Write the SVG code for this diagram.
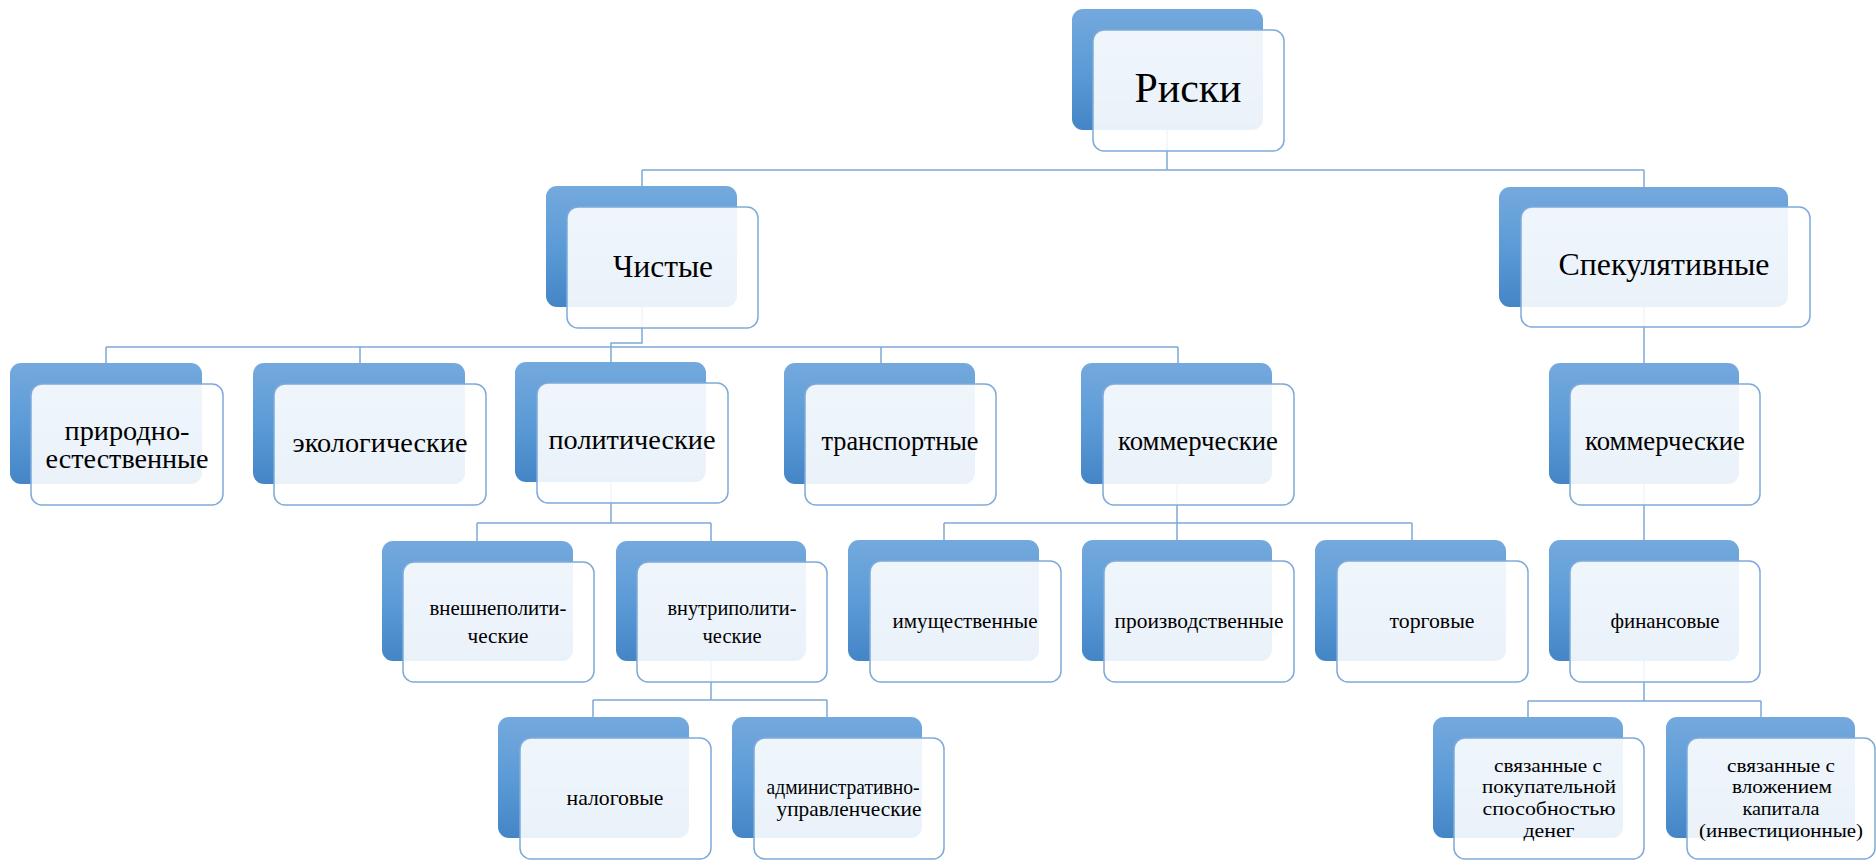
<svg xmlns="http://www.w3.org/2000/svg" width="1876" height="867" viewBox="0 0 1876 867">
<defs>
<linearGradient id="bg" x1="0" y1="0" x2="0" y2="1">
<stop offset="0" stop-color="#74A9DD"/>
<stop offset="0.5" stop-color="#5C9BD7"/>
<stop offset="1" stop-color="#4485C6"/>
</linearGradient>
<style>
.back{fill:url(#bg);}
.front{fill:#FFFFFF;fill-opacity:0.89;stroke:#7EAAD9;stroke-width:1.5;}
.conn{fill:none;stroke:#7EA8D8;stroke-width:1.5;}
text{font-family:"Liberation Serif","Times New Roman",serif;fill:#000;text-anchor:middle;}
.t1{font-size:42px;}
.t2{font-size:32px;}
.t3{font-size:28px;}
.t4{font-size:22px;}
.t5{font-size:19px;}
</style>
</defs>
<rect width="1876" height="867" fill="#FFFFFF"/>
<g id="connectors">
<path class="conn" d="M1167,130 V170 M642,170 H1644 M642,170 V186 M1644,170 V187"/>
<path class="conn" d="M642,307 V343 H611 V362 M106,347 H1178 M106,347 V363 M360,347 V363 M881,347 V363 M1178,347 V363"/>
<path class="conn" d="M1644,307 V363 M1644,484 V540"/>
<path class="conn" d="M1644,661 V701 M1528,701 H1761 M1528,701 V717 M1761,701 V717"/>
<path class="conn" d="M611,482 V523 M477,523 H711 M477,523 V541 M711,523 V541"/>
<path class="conn" d="M711,661 V700 M593,700 H827 M593,700 V717 M827,700 V717"/>
<path class="conn" d="M1177,484 V540 M944,523 H1412 M944,523 V540 M1412,523 V540"/>
</g>
<g id="node-riski">
<rect class="back" x="1072" y="9" width="191" height="121" rx="11"/>
<rect class="front" x="1093" y="30" width="191" height="121" rx="11"/>
<text class="t1" x="1188" y="102" textLength="107" lengthAdjust="spacingAndGlyphs">Риски</text>
</g>
<g id="node-chistye">
<rect class="back" x="546" y="186" width="191" height="121" rx="11"/>
<rect class="front" x="567" y="207" width="191" height="121" rx="11"/>
<text class="t2" x="663" y="277" textLength="100" lengthAdjust="spacingAndGlyphs">Чистые</text>
</g>
<g id="node-spekulyativnye">
<rect class="back" x="1499" y="187" width="289" height="120" rx="11"/>
<rect class="front" x="1521" y="207" width="289" height="120" rx="11"/>
<text class="t2" x="1664" y="275" textLength="211" lengthAdjust="spacingAndGlyphs">Спекулятивные</text>
</g>
<g id="node-prirodno">
<rect class="back" x="10" y="363" width="192" height="121" rx="11"/>
<rect class="front" x="31" y="384" width="192" height="121" rx="11"/>
<text class="t3" x="127" y="440" textLength="125" lengthAdjust="spacingAndGlyphs">природно-</text>
<text class="t3" x="127" y="468" textLength="163" lengthAdjust="spacingAndGlyphs">естественные</text>
</g>
<g id="node-ekologicheskie">
<rect class="back" x="253" y="363" width="212" height="121" rx="11"/>
<rect class="front" x="274" y="384" width="212" height="121" rx="11"/>
<text class="t3" x="380" y="452" textLength="175" lengthAdjust="spacingAndGlyphs">экологические</text>
</g>
<g id="node-politicheskie">
<rect class="back" x="515" y="362" width="191" height="120" rx="11"/>
<rect class="front" x="537" y="383" width="191" height="120" rx="11"/>
<text class="t3" x="632" y="449" textLength="167" lengthAdjust="spacingAndGlyphs">политические</text>
</g>
<g id="node-transportnye">
<rect class="back" x="784" y="363" width="191" height="121" rx="11"/>
<rect class="front" x="805" y="384" width="191" height="121" rx="11"/>
<text class="t3" x="900" y="450" textLength="157" lengthAdjust="spacingAndGlyphs">транспортные</text>
</g>
<g id="node-kommercheskie-1">
<rect class="back" x="1081" y="363" width="191" height="121" rx="11"/>
<rect class="front" x="1103" y="384" width="191" height="121" rx="11"/>
<text class="t3" x="1198" y="450" textLength="160" lengthAdjust="spacingAndGlyphs">коммерческие</text>
</g>
<g id="node-kommercheskie-2">
<rect class="back" x="1549" y="363" width="190" height="121" rx="11"/>
<rect class="front" x="1570" y="384" width="190" height="121" rx="11"/>
<text class="t3" x="1665" y="450" textLength="160" lengthAdjust="spacingAndGlyphs">коммерческие</text>
</g>
<g id="node-vneshnepoliticheskie">
<rect class="back" x="382" y="541" width="191" height="120" rx="11"/>
<rect class="front" x="403" y="562" width="191" height="120" rx="11"/>
<text class="t4" x="498" y="615" textLength="137" lengthAdjust="spacingAndGlyphs">внешнеполити-</text>
<text class="t4" x="498" y="643" textLength="61" lengthAdjust="spacingAndGlyphs">ческие</text>
</g>
<g id="node-vnutripoliticheskie">
<rect class="back" x="616" y="541" width="190" height="120" rx="11"/>
<rect class="front" x="637" y="562" width="190" height="120" rx="11"/>
<text class="t4" x="732" y="615" textLength="129" lengthAdjust="spacingAndGlyphs">внутриполити-</text>
<text class="t4" x="732" y="643" textLength="59" lengthAdjust="spacingAndGlyphs">ческие</text>
</g>
<g id="node-imushchestvennye">
<rect class="back" x="848" y="540" width="191" height="121" rx="11"/>
<rect class="front" x="870" y="561" width="191" height="121" rx="11"/>
<text class="t4" x="965" y="628" textLength="145" lengthAdjust="spacingAndGlyphs">имущественные</text>
</g>
<g id="node-proizvodstvennye">
<rect class="back" x="1082" y="540" width="190" height="121" rx="11"/>
<rect class="front" x="1104" y="561" width="190" height="121" rx="11"/>
<text class="t4" x="1199" y="628" textLength="169" lengthAdjust="spacingAndGlyphs">производственные</text>
</g>
<g id="node-torgovye">
<rect class="back" x="1315" y="540" width="191" height="121" rx="11"/>
<rect class="front" x="1337" y="561" width="191" height="121" rx="11"/>
<text class="t4" x="1432" y="628" textLength="85" lengthAdjust="spacingAndGlyphs">торговые</text>
</g>
<g id="node-finansovye">
<rect class="back" x="1549" y="540" width="190" height="121" rx="11"/>
<rect class="front" x="1570" y="561" width="190" height="121" rx="11"/>
<text class="t4" x="1665" y="628" textLength="109" lengthAdjust="spacingAndGlyphs">финансовые</text>
</g>
<g id="node-nalogovye">
<rect class="back" x="498" y="717" width="191" height="121" rx="11"/>
<rect class="front" x="520" y="738" width="191" height="121" rx="11"/>
<text class="t4" x="615" y="805" textLength="97" lengthAdjust="spacingAndGlyphs">налоговые</text>
</g>
<g id="node-administrativno">
<rect class="back" x="732" y="717" width="190" height="121" rx="11"/>
<rect class="front" x="754" y="738" width="190" height="121" rx="11"/>
<text class="t4" x="843" y="794" textLength="153" lengthAdjust="spacingAndGlyphs">административно-</text>
<text class="t4" x="849" y="816" textLength="145" lengthAdjust="spacingAndGlyphs">управленческие</text>
</g>
<g id="node-svyazannye-1">
<rect class="back" x="1433" y="717" width="190" height="121" rx="11"/>
<rect class="front" x="1454" y="738" width="190" height="121" rx="11"/>
<text class="t5" x="1548" y="772" textLength="108" lengthAdjust="spacingAndGlyphs">связанные с</text>
<text class="t5" x="1549" y="793" textLength="134" lengthAdjust="spacingAndGlyphs">покупательной</text>
<text class="t5" x="1549" y="815" textLength="133" lengthAdjust="spacingAndGlyphs">способностью</text>
<text class="t5" x="1549" y="837" textLength="51" lengthAdjust="spacingAndGlyphs">денег</text>
</g>
<g id="node-svyazannye-2">
<rect class="back" x="1666" y="717" width="189" height="121" rx="11"/>
<rect class="front" x="1687" y="738" width="188" height="121" rx="11"/>
<text class="t5" x="1781" y="772" textLength="108" lengthAdjust="spacingAndGlyphs">связанные с</text>
<text class="t5" x="1782" y="793" textLength="100" lengthAdjust="spacingAndGlyphs">вложением</text>
<text class="t5" x="1781" y="815" textLength="77" lengthAdjust="spacingAndGlyphs">капитала</text>
<text class="t5" x="1781" y="837" textLength="164" lengthAdjust="spacingAndGlyphs">(инвестиционные)</text>
</g>
</svg>
